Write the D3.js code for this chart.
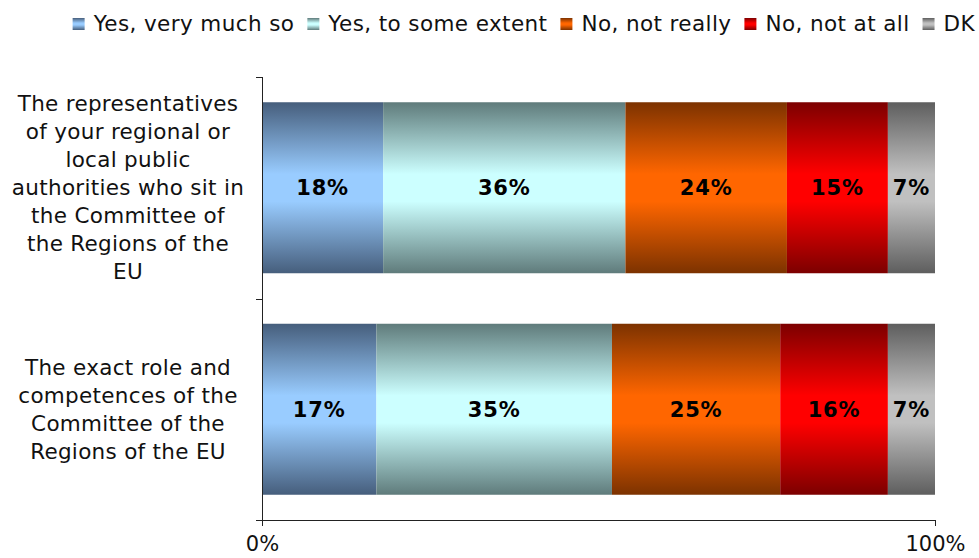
<!DOCTYPE html>
<html><head><meta charset="utf-8">
<script src="https://cdn.jsdelivr.net/npm/d3@7"></script>
<style>body{margin:0;background:#fff}svg{display:block}</style>
</head><body>
<svg id="c" width="979" height="558"></svg>
<script>
const categories = [
  "The representatives of your regional or local public authorities who sit in the Committee of the Regions of the EU",
  "The exact role and competences of the Committee of the Regions of the EU"
];
const categoryLines = [
  ["The representatives","of your regional or","local public","authorities who sit in","the Committee of","the Regions of the","EU"],
  ["The exact role and","competences of the","Committee of the","Regions of the EU"]
];
const seriesNames = ["Yes, very much so","Yes, to some extent","No, not really","No, not at all","DK"];
const yesVeryMuch = [18, 17];
const yesSomeExtent = [36, 35];
const noNotReally = [24, 25];
const noNotAtAll = [15, 16];
const dk = [7, 7];
const xTicks = [0, 100];
const xTickLabels = ["0%", "100%"];

const edgeColors = ["#465e7c","#5f7b7b","#7c3200","#7c0000","#5e5e5e"];
const midColors  = ["#99ccff","#ccffff","#ff6600","#ff0000","#c0c0c0"];

const svg = d3.select("#c");
const font = "'DejaVu Sans', Verdana, sans-serif";

const defs = svg.append("defs");
seriesNames.forEach((s,i)=>{
  const g = defs.append("linearGradient").attr("id","g"+i).attr("x1",0).attr("y1",0).attr("x2",0).attr("y2",1);
  g.append("stop").attr("offset","0").attr("stop-color",edgeColors[i]);
  g.append("stop").attr("offset","0.42").attr("stop-color",midColors[i]);
  g.append("stop").attr("offset","0.58").attr("stop-color",midColors[i]);
  g.append("stop").attr("offset","1").attr("stop-color",edgeColors[i]);
});

const x = d3.scaleLinear().domain([0,100]).range([262,935]);
const y = d3.scaleBand().domain(categories).range([77,520]).paddingInner(0.228).paddingOuter(0.114);

const allSeries = [yesVeryMuch, yesSomeExtent, noNotReally, noNotAtAll, dk];
const rows = categories.map((c,ci)=>{
  const o = {cat:c};
  seriesNames.forEach((s,si)=>o[s]=allSeries[si][ci]);
  return o;
});
const stacked = d3.stack().keys(seriesNames)(rows);

stacked.forEach((layer,si)=>{
  const g = svg.append("g");
  g.selectAll("rect").data(layer).join("rect")
    .attr("x",d=>x(d[0])).attr("width",d=>x(d[1])-x(d[0]))
    .attr("y",d=>y(d.data.cat)).attr("height",y.bandwidth())
    .attr("fill","url(#g"+si+")");
  g.selectAll("text").data(layer).join("text")
    .attr("x",d=>(x(d[0])+x(d[1]))/2)
    .attr("y",d=>y(d.data.cat)+y.bandwidth()/2)
    .attr("dy","0.36em").attr("text-anchor","middle")
    .attr("font-family",font).attr("font-weight","bold").attr("font-size",21)
    .attr("letter-spacing",0.8)
    .attr("fill","#000")
    .text(d=>(d[1]-d[0])+"%");
});

// y axis
const yAxisG = svg.append("g");
yAxisG.append("line").attr("x1",x(0)+0.5).attr("x2",x(0)+0.5).attr("y1",y.range()[0]).attr("y2",y.range()[1]).attr("stroke","#222");
const bounds = [y.range()[0]].concat(categories.slice(1).map(c=>y(c)-y.step()*y.paddingInner()/2), [y.range()[1]]);
yAxisG.selectAll("line.t").data(bounds).join("line").attr("class","t")
  .attr("x1",x(0)-6).attr("x2",x(0)).attr("y1",d=>Math.round(d)+0.5).attr("y2",d=>Math.round(d)+0.5).attr("stroke","#222");

// category labels
categories.forEach((c,ci)=>{
  const lines = categoryLines[ci];
  const lh = 28;
  const cy = y(c)+y.bandwidth()/2;
  const t = svg.append("text").attr("font-family",font).attr("font-size",21.5).attr("fill","#111")
    .attr("letter-spacing",0.3).attr("text-anchor","middle");
  lines.forEach((l,li)=>{
    t.append("tspan").attr("x",128).attr("y",cy+(li-(lines.length-1)/2)*lh).attr("dy","0.36em").text(l);
  });
});

// x axis
const xAxis = d3.axisBottom(x).tickValues(xTicks).tickSize(6).tickPadding(10).tickFormat((d,i)=>xTickLabels[i]);
const xg = svg.append("g").attr("transform","translate(0,520)").call(xAxis);
xg.select(".domain").attr("d","M"+(x(0)-6)+",0.5H"+(x(100)+0.5)).attr("stroke","#222");
xg.selectAll(".tick line").attr("stroke","#222");
xg.selectAll("text").attr("font-family",font).attr("font-size",21).attr("fill","#111");

// legend
const legend = svg.append("g").attr("font-family",font).attr("font-size",21.5).attr("fill","#111").attr("letter-spacing",0.4);
const items = [];
let lx = 0;
seriesNames.forEach((s,i)=>{
  const r = legend.append("rect").attr("y",18).attr("width",12).attr("height",12).attr("fill","url(#g"+i+")");
  const t = legend.append("text").attr("y",31).text(s);
  const w = t.node().getComputedTextLength();
  items.push({r,t,x:lx});
  lx += 21 + w + 13;
});
const total = lx - 13;
const start = 975 - total;
items.forEach(it=>{ it.r.attr("x",start+it.x); it.t.attr("x",start+it.x+21); });
</script>
</body></html>
